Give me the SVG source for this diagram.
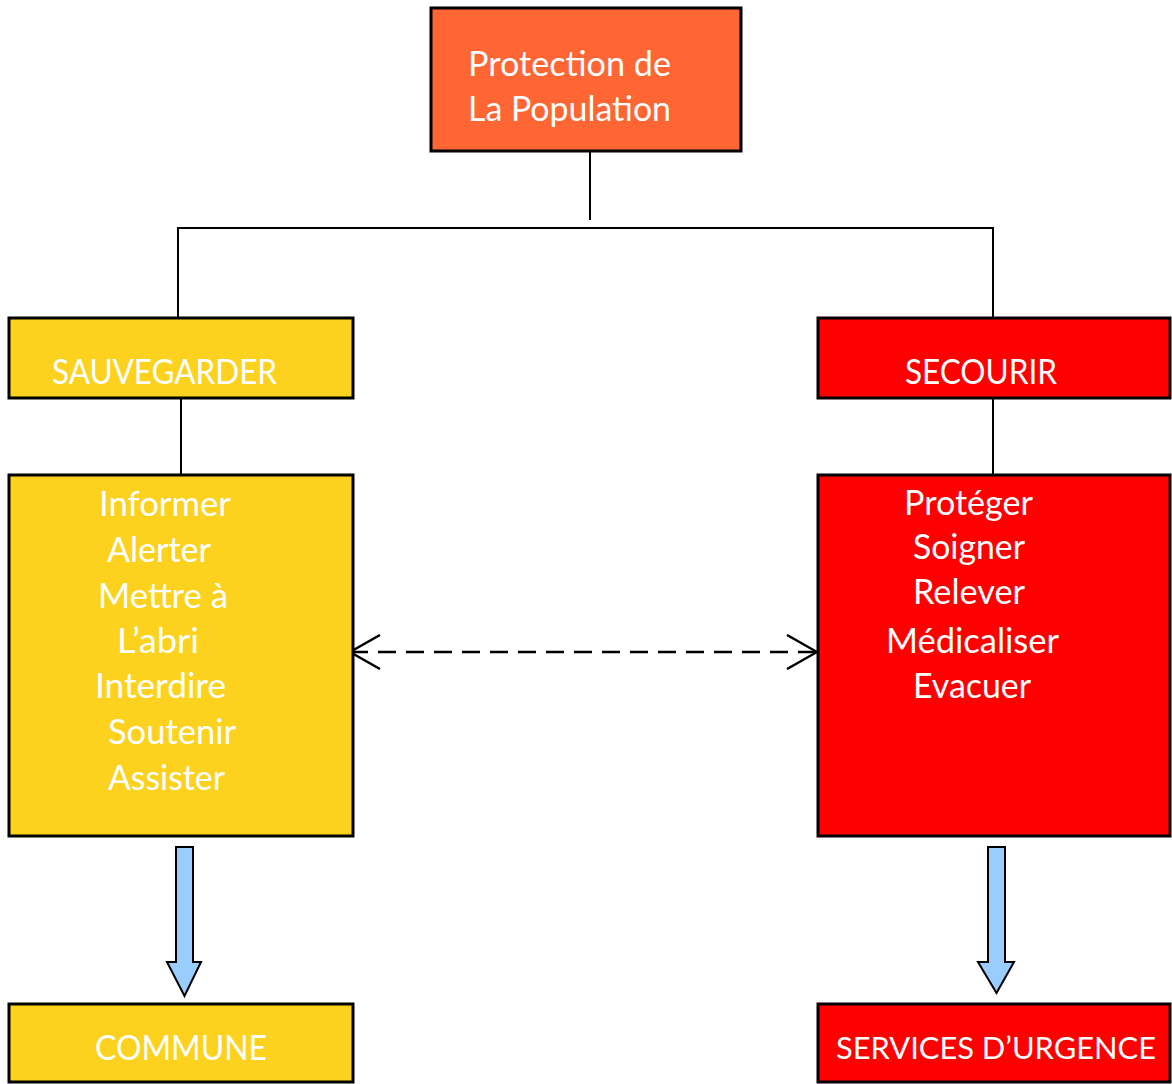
<svg xmlns="http://www.w3.org/2000/svg" width="1172" height="1084" viewBox="0 0 1172 1084">
<style>
.box{stroke:#000;stroke-width:3}
.orange{fill:#FF6633}
.yellow{fill:#FCD21F}
.red{fill:#FF0000}
.t{font-family:Lato,"Liberation Sans",sans-serif;font-size:34px;fill:#fff}
.ln{stroke:#000;stroke-width:2;fill:none}
.dash{stroke:#000;stroke-width:2.5;fill:none;stroke-dasharray:18 10}
.blk{fill:#99CCFF;stroke:#000;stroke-width:2;stroke-linejoin:miter}
</style>
<defs>
<marker id="open" viewBox="0 0 32 36" refX="31" refY="18" markerWidth="32" markerHeight="36" markerUnits="userSpaceOnUse" orient="auto-start-reverse">
<path d="M1 1 L31 18 L1 35" fill="none" stroke="#000" stroke-width="2.5"/>
</marker>
</defs>
<rect width="1172" height="1084" fill="#fff"/>
<g id="connectors">
<line class="ln" x1="590" y1="143" x2="590" y2="220"/>
<polyline class="ln" points="178,318 178,228 993,228 993,318"/>
<line class="ln" x1="181" y1="398" x2="181" y2="474"/>
<line class="ln" x1="993" y1="398" x2="993" y2="474"/>
<line class="dash" x1="350" y1="652" x2="817" y2="652" marker-start="url(#open)" marker-end="url(#open)"/>
<path class="blk" d="M176 847 H193 V962 H201 L184.5 996 L167 962 H176 Z"/>
<path class="blk" d="M988 847 H1005 V962 H1014 L996.5 993 L978 962 H988 Z"/>
</g>
<g id="protection">
<rect class="box orange" x="431" y="8" width="310" height="143"/>
<text class="t" x="468" y="76" textLength="203" lengthAdjust="spacingAndGlyphs">Protection de</text>
<text class="t" x="468" y="121" textLength="203" lengthAdjust="spacingAndGlyphs">La Population</text>
</g>
<g id="sauvegarder">
<rect class="box yellow" x="9" y="318" width="344" height="80"/>
<text class="t" x="52" y="384" textLength="225" lengthAdjust="spacingAndGlyphs">SAUVEGARDER</text>
</g>
<g id="secourir">
<rect class="box red" x="818" y="318" width="352" height="80"/>
<text class="t" x="905" y="384" textLength="152" lengthAdjust="spacingAndGlyphs">SECOURIR</text>
</g>
<g id="actions-sauvegarder">
<rect class="box yellow" x="9" y="475" width="344" height="361"/>
<text class="t" x="99" y="516" textLength="132" lengthAdjust="spacingAndGlyphs">Informer</text>
<text class="t" x="107" y="562" textLength="104" lengthAdjust="spacingAndGlyphs">Alerter</text>
<text class="t" x="98" y="608" textLength="130" lengthAdjust="spacingAndGlyphs">Mettre à</text>
<text class="t" x="117" y="653" textLength="82" lengthAdjust="spacingAndGlyphs">L’abri</text>
<text class="t" x="95" y="698" textLength="131" lengthAdjust="spacingAndGlyphs">Interdire</text>
<text class="t" x="108" y="744" textLength="128" lengthAdjust="spacingAndGlyphs">Soutenir</text>
<text class="t" x="108" y="790" textLength="117" lengthAdjust="spacingAndGlyphs">Assister</text>
</g>
<g id="actions-secourir">
<rect class="box red" x="818" y="475" width="352" height="361"/>
<text class="t" x="904" y="515" textLength="129" lengthAdjust="spacingAndGlyphs">Protéger</text>
<text class="t" x="913" y="559" textLength="112" lengthAdjust="spacingAndGlyphs">Soigner</text>
<text class="t" x="913" y="604" textLength="112" lengthAdjust="spacingAndGlyphs">Relever</text>
<text class="t" x="886" y="653" textLength="173" lengthAdjust="spacingAndGlyphs">Médicaliser</text>
<text class="t" x="913" y="698" textLength="118" lengthAdjust="spacingAndGlyphs">Evacuer</text>
</g>
<g id="commune">
<rect class="box yellow" x="9" y="1004" width="344" height="78"/>
<text class="t" x="95" y="1060" textLength="172" lengthAdjust="spacingAndGlyphs">COMMUNE</text>
</g>
<g id="services-urgence">
<rect class="box red" x="818" y="1004" width="352" height="78"/>
<text class="t" x="836" y="1059" style="font-size:31px" textLength="320" lengthAdjust="spacingAndGlyphs">SERVICES D’URGENCE</text>
</g>
</svg>
